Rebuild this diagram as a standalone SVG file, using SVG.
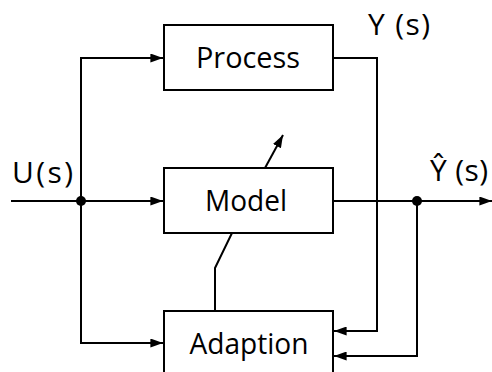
<svg xmlns="http://www.w3.org/2000/svg" width="492" height="372" viewBox="0 0 492 372">
<style>
.box{fill:#fff;stroke:#000;stroke-width:2}
.ln{fill:none;stroke:#000;stroke-width:2}
.t{font-family:"Open Sans","Noto Sans",sans-serif;font-size:30px;fill:#000}
</style>
<defs>
<marker id="ah" viewBox="0 0 14 10" refX="14" refY="5" markerWidth="13" markerHeight="9" markerUnits="userSpaceOnUse" orient="auto">
<path d="M0,0 L14,5 L0,10 Z" fill="#000"/>
</marker>
</defs>
<g id="connectors">
<path class="ln" d="M11,201 H163" marker-end="url(#ah)"/>
<path class="ln" d="M81,201 V58 H163" marker-end="url(#ah)"/>
<path class="ln" d="M81,201 V343 H163" marker-end="url(#ah)"/>
<path class="ln" d="M333,58 H377 V331 H334" marker-end="url(#ah)"/>
<path class="ln" d="M333,201 H492" marker-end="url(#ah)"/>
<path class="ln" d="M417,201 V356 H334" marker-end="url(#ah)"/>
<path class="ln" d="M215,311 V268 L232,233"/>
<path class="ln" d="M265,168 L283,135" marker-end="url(#ah)"/>
<circle cx="81" cy="201" r="5" fill="#000"/>
<circle cx="417" cy="201" r="5" fill="#000"/>
</g>
<g id="process">
<rect class="box" x="164" y="25" width="169" height="65"/>
<text class="t" x="248" y="68" text-anchor="middle" textLength="104" lengthAdjust="spacingAndGlyphs">Process</text>
</g>
<g id="model">
<rect class="box" x="164" y="168" width="169" height="65"/>
<text class="t" x="246" y="211" text-anchor="middle" textLength="82" lengthAdjust="spacingAndGlyphs">Model</text>
</g>
<g id="adaption">
<rect class="box" x="164" y="311" width="169" height="70"/>
<text class="t" x="249" y="354" text-anchor="middle" textLength="119" lengthAdjust="spacingAndGlyphs">Adaption</text>
</g>
<g id="labels">
<text class="t" x="12" y="183" textLength="61">U(s)</text>
<text class="t" x="368" y="35" textLength="62">Y (s)</text>
<text class="t" x="430" y="181" textLength="58">Ŷ (s)</text>
</g>
</svg>
